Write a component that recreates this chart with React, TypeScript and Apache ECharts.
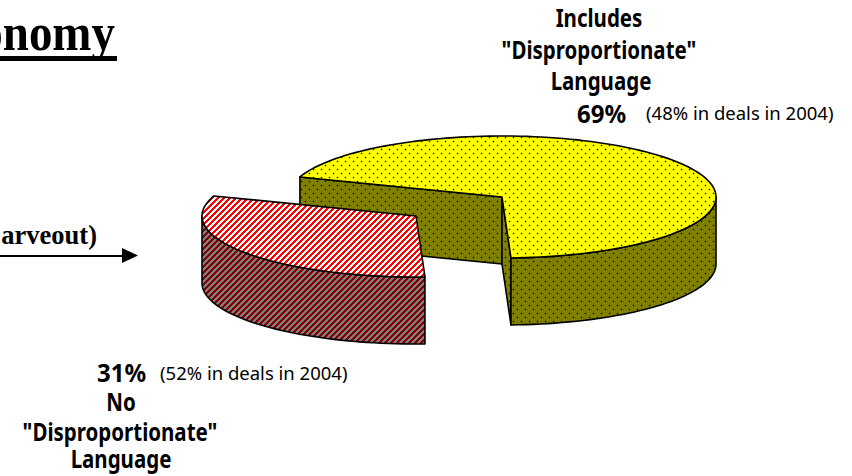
import React, { useEffect, useRef } from "react";
import * as echarts from "echarts";

// Share of deals per answer; the first slice stays in place, the second is pulled out.
const sliceNames = ["Includes Disproportionate Language", "No Disproportionate Language"];
const sliceShares = [69, 31];
const priorShares = [48, 52];
const priorYear = 2004;

const SANS = '"Noto Sans", Verdana, sans-serif';
const SERIF = '"Liberation Serif", "Times New Roman", serif';

// Projection of the tilted disc.
const CX = 502;
const CY = 197;
const RX = 214;
const RY = 61;
const DEPTH = 67;
const START_DEG = 87.6; // front edge of the pulled-out slice
const EXPLODE = [
  { x: 0, y: 0 },
  { x: -86, y: 19 },
];

function tile(size: number, paint: (c: CanvasRenderingContext2D) => void) {
  const canvas = document.createElement("canvas");
  canvas.width = size;
  canvas.height = size;
  paint(canvas.getContext("2d")!);
  return { image: canvas, repeat: "repeat", imageWidth: size, imageHeight: size } as any;
}

function dotted(bg: string) {
  return tile(8, (c) => {
    c.fillStyle = bg;
    c.fillRect(0, 0, 8, 8);
    for (const [x, y] of [[1, 1], [5, 5]]) {
      c.fillStyle = "rgba(0,0,0,0.18)";
      c.fillRect(x - 1, y, 3, 1);
      c.fillRect(x, y - 1, 1, 3);
      c.fillStyle = "#000";
      c.fillRect(x, y, 1, 1);
    }
  });
}

function striped(a: string, b: string) {
  return tile(6, (c) => {
    for (let x = 0; x < 6; x++) {
      for (let y = 0; y < 6; y++) {
        c.fillStyle = (x + y) % 6 < 3 ? a : b;
        c.fillRect(x, y, 1, 1);
      }
    }
  });
}

function rim(ox: number, oy: number, deg: number): [number, number] {
  const t = (deg * Math.PI) / 180;
  return [CX + ox + RX * Math.cos(t), CY + oy + RY * Math.sin(t)];
}

function arc(ox: number, oy: number, from: number, to: number) {
  const pts: [number, number][] = [];
  const n = Math.max(2, Math.ceil(Math.abs(to - from) / 2));
  for (let i = 0; i <= n; i++) pts.push(rim(ox, oy, from + ((to - from) * i) / n));
  return pts;
}

export default function App() {
  const ref = useRef<HTMLDivElement>(null);

  useEffect(() => {
    const chart = echarts.init(ref.current!, undefined, { renderer: "svg" });
    const total = sliceShares.reduce((a, b) => a + b, 0);
    const fills = [
      { top: dotted("#ffff00"), wall: dotted("#808000") },
      { top: striped("#ff0000", "#ffffff"), wall: striped("#800000", "#808080") },
    ];
    const edge = { stroke: "#000", lineWidth: 1.6, lineJoin: "round" };

    const renderItem = (params: any, api: any) => {
      const i = params.dataIndex;
      const sweep = (api.value(0) / total) * 360;
      const { x: ox, y: oy } = EXPLODE[i];
      const apex: [number, number] = [CX + ox, CY + oy];
      // The first slice runs clockwise from the far end of the second one.
      const from = i === 0 ? START_DEG + 360 - sweep : START_DEG;
      const to = from + sweep;
      const children: any[] = [];
      const poly = (points: [number, number][], fill: any) =>
        children.push({ type: "polygon", shape: { points }, style: { fill, ...edge } });
      const drop = (p: [number, number]): [number, number] => [p[0], p[1] + DEPTH];

      if (i === 0) {
        // Cut faces seen through the gap left by the other slice.
        const a = rim(ox, oy, from);
        const b = rim(ox, oy, to);
        poly([apex, a, drop(a), drop(apex)], fills[i].wall);
        poly([apex, b, drop(b), drop(apex)], fills[i].wall);
      }
      // Outer wall: only the part of the rim on the near half of the disc shows.
      const near: [number, number][] = [];
      for (const k of [0, 360]) {
        const lo = Math.max(from, k);
        const hi = Math.min(to, k + 180);
        if (hi > lo) near.push([lo, hi]);
      }
      for (const [lo, hi] of near) {
        const outer = arc(ox, oy, lo, hi);
        poly([...outer, ...outer.slice().reverse().map(drop)], fills[i].wall);
      }
      poly([apex, ...arc(ox, oy, from, to)], fills[i].top);
      return { type: "group", children };
    };

    const label = (
      text: string,
      x: number,
      y: number,
      size: number,
      weight: string,
      align = "center",
      scaleY = 1,
    ) => ({
      type: "text",
      x,
      y,
      scaleY,
      style: {
        text,
        font: `${weight} ${size}px ${SANS}`,
        fill: "#000",
        textAlign: align,
        textVerticalAlign: "middle",
      },
    });
    const heading = (text: string, x: number, y: number) => label(text, x, y, 20.5, "bold", "center", 1.18);

    chart.setOption({
      animation: false,
      backgroundColor: "#fff",
      series: [
        {
          type: "custom",
          coordinateSystem: "none",
          silent: true,
          renderItem,
          data: sliceShares.map((value, i) => ({ name: sliceNames[i], value })),
        },
      ],
      graphic: [
        heading("Includes", 599, 18),
        heading('"Disproportionate"', 599, 50),
        heading("Language", 601, 81),
        label(`${sliceShares[0]}%`, 577, 113, 24, "bold", "left", 1.05),
        label(`(${priorShares[0]}% in deals in ${priorYear})`, 646, 112, 18.5, "normal", "left"),
        label(`${sliceShares[1]}%`, 97, 372, 24, "bold", "left", 1.05),
        label(`(${priorShares[1]}% in deals in ${priorYear})`, 160, 372, 18.5, "normal", "left"),
        heading("No", 121, 402),
        heading('"Disproportionate"', 120, 432),
        heading("Language", 121, 459),
        {
          type: "text",
          x: 115,
          y: 59,
          scaleY: 1.12,
          style: { text: "onomy", font: `bold 47px ${SERIF}`, fill: "#000", textAlign: "right", textVerticalAlign: "bottom" },
        },
        { type: "rect", shape: { x: 0, y: 56, width: 117, height: 5 }, style: { fill: "#000" } },
        {
          type: "text",
          x: 97,
          y: 235,
          style: { text: "arveout)", font: `bold 26.5px ${SERIF}`, fill: "#000", textAlign: "right", textVerticalAlign: "middle" },
        },
        { type: "line", shape: { x1: 0, y1: 256, x2: 124, y2: 256 }, style: { stroke: "#000", lineWidth: 2 } },
        { type: "polygon", shape: { points: [[122, 248], [138, 255.5], [122, 263]] }, style: { fill: "#000" } },
      ],
    });
    return () => chart.dispose();
  }, []);

  return <div ref={ref} style={{ position: "fixed", left: 0, top: 0, width: 852, height: 476 }} />;
}
